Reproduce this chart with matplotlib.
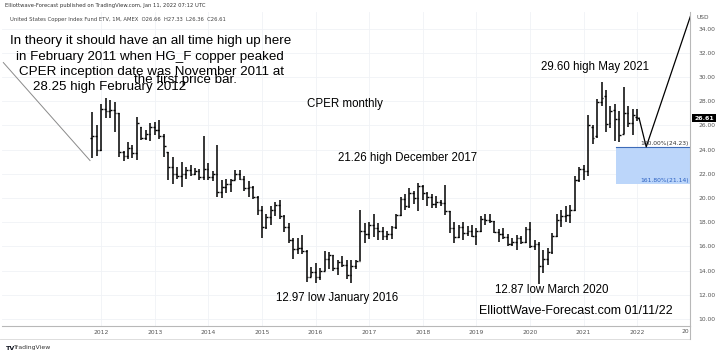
import numpy as np
import matplotlib.pyplot as plt
from matplotlib.patches import Rectangle

# monthly OHLC for CPER, Nov 2011 .. Jan 2022 (index 0 = Nov 2011)
opens = [25.0, 25.1, 24.0, 27.4, 27.2, 27.3, 27.0, 23.8, 23.5, 24.1, 23.7, 25.9,
         25.0, 25.3, 25.9, 25.6, 25.1, 23.8, 22.6, 22.0, 21.8, 22.0, 22.3, 22.0,
         22.2, 21.7, 22.4, 21.7, 22.0, 20.5, 20.9, 21.2, 21.5, 22.0, 21.6, 20.8,
         20.9, 20.1, 19.0, 17.6, 18.4, 19.0, 19.4, 18.5, 17.6, 16.5, 15.8, 15.9,
         15.6, 13.5, 13.9, 13.5, 14.0, 15.0, 15.3, 14.2, 14.7, 14.5, 13.6, 14.4,
         14.8, 17.3, 17.0, 17.8, 17.5, 17.3, 16.9, 17.0, 17.6, 18.6, 19.9, 19.3,
         20.4, 20.0, 21.0, 20.4, 20.1, 19.5, 19.7, 19.6, 18.9, 17.5, 16.8, 17.6,
         17.1, 17.3, 16.9, 17.3, 18.3, 18.2, 18.1, 17.2, 17.0, 16.8, 16.2, 16.4,
         16.7, 16.4, 17.4, 16.0, 16.2, 14.4, 15.0, 15.5, 16.9, 18.2, 18.5, 18.6,
         19.0, 21.5, 22.4, 22.2, 25.9, 25.1, 27.9, 28.4, 26.2, 27.3, 26.5, 25.3,
         27.0, 26.2, 26.66]
highs = [27.1, 26.0, 27.8, 28.25, 28.1, 27.97, 27.0, 23.9, 24.6, 24.4, 26.7, 25.9,
         25.6, 26.2, 26.3, 26.45, 25.3, 23.8, 23.4, 22.6, 23.0, 22.6, 22.7, 22.5,
         22.4, 25.1, 22.9, 22.2, 24.4, 21.5, 21.6, 21.6, 22.3, 22.3, 21.8, 21.4,
         21.0, 20.2, 19.3, 18.7, 19.3, 19.7, 19.8, 18.6, 17.9, 16.7, 16.7, 16.95,
         15.7, 14.3, 14.6, 14.2, 15.6, 15.5, 15.3, 14.9, 15.2, 14.9, 14.9, 14.9,
         19.0, 17.9, 18.0, 18.7, 17.9, 17.6, 17.3, 17.7, 18.7, 20.1, 20.3, 20.8,
         20.6, 21.26, 21.1, 20.5, 20.3, 20.2, 19.8, 21.1, 18.9, 18.05, 17.8, 18.0,
         17.7, 17.8, 17.5, 18.5, 18.7, 18.7, 18.1, 17.4, 17.5, 17.0, 16.7, 16.95,
         16.9, 17.6, 18.05, 16.5, 16.4, 15.7, 15.85, 17.1, 18.7, 19.0, 19.3, 19.4,
         21.8, 22.6, 22.7, 26.9, 26.0, 28.2, 29.6, 28.9, 27.6, 27.8, 27.2, 29.2,
         27.6, 27.4, 27.33]
lows = [23.3, 23.5, 23.9, 26.6, 26.6, 25.5, 23.4, 23.1, 23.2, 23.3, 23.15, 24.8,
        24.8, 24.7, 25.2, 24.9, 23.4, 21.5, 21.2, 21.6, 20.95, 21.6, 21.8, 21.9,
        21.5, 21.5, 21.5, 21.4, 20.1, 20.0, 20.4, 20.5, 21.5, 21.5, 20.6, 20.1,
        19.9, 18.6, 16.7, 17.4, 17.8, 18.5, 18.3, 17.2, 16.3, 15.0, 15.4, 15.4,
        13.05, 13.5, 12.97, 13.2, 14.0, 14.1, 14.0, 13.6, 14.3, 13.3, 13.0, 14.1,
        14.8, 16.3, 16.6, 16.8, 16.5, 16.5, 16.5, 16.6, 17.4, 18.5, 19.0, 19.2,
        19.5, 18.9, 19.8, 19.3, 19.2, 19.2, 19.3, 18.6, 17.1, 16.3, 16.7, 16.5,
        16.9, 16.8, 16.1, 17.2, 17.8, 17.9, 17.1, 16.4, 16.6, 16.0, 16.0, 15.7,
        16.2, 16.3, 15.9, 15.7, 12.87, 13.8, 14.5, 15.4, 16.8, 17.6, 18.0, 17.9,
        18.9, 21.3, 21.5, 21.8, 24.5, 25.0, 27.6, 25.5, 25.8, 24.7, 24.6, 25.3,
        25.9, 25.2, 26.36]
closes = [25.1, 24.0, 27.4, 27.2, 27.3, 27.0, 23.8, 23.5, 24.1, 23.7, 26.2, 25.0,
          25.3, 25.9, 25.6, 25.1, 24.3, 22.6, 22.0, 21.8, 22.0, 22.3, 22.0, 22.2,
          21.7, 22.4, 21.7, 22.0, 20.5, 20.9, 21.2, 21.5, 22.0, 21.6, 20.8, 20.9,
          20.1, 19.0, 17.6, 18.4, 19.0, 19.4, 18.5, 17.6, 16.5, 15.8, 15.9, 15.6,
          13.5, 13.9, 13.5, 14.0, 15.0, 15.3, 14.2, 14.7, 14.5, 13.6, 14.4, 14.8,
          17.3, 17.0, 17.8, 17.5, 17.3, 16.9, 17.0, 17.6, 18.6, 19.9, 19.3, 20.4,
          20.0, 21.0, 20.4, 20.1, 19.5, 19.7, 19.6, 18.9, 17.5, 16.8, 17.6, 17.1,
          17.3, 16.9, 17.3, 18.3, 18.2, 18.1, 17.2, 17.0, 16.8, 16.2, 16.4, 16.7,
          16.4, 17.4, 16.0, 16.2, 14.4, 15.0, 15.5, 16.9, 18.2, 18.5, 18.6, 19.0,
          21.5, 22.4, 22.2, 26.0, 25.0, 27.9, 28.3, 26.1, 27.2, 26.5, 25.2, 27.0,
          26.2, 26.9, 26.61]

years = ['2012', '2013', '2014', '2015', '2016', '2017', '2018', '2019', '2020', '2021', '2022']
year_pos = [2, 14, 26, 38, 50, 62, 74, 86, 98, 110, 122]
price_ticks = [10, 12, 14, 16, 18, 20, 22, 24, 26, 28, 30, 32, 34]

fib_100 = 24.23
fib_161 = 21.14
last_close = 26.61
# projected path drawn after the last bar
proj_x = [122.4, 124.0, 134.6]
proj_y = [26.61, 24.23, 35.8]
# thin pointer line on the left
ptr_x = [-19.9, -0.5]
ptr_y = [31.2, 23.1]

W, H = 720, 356
fig = plt.figure(figsize=(W / 100, H / 100), dpi=100)
fig.patch.set_facecolor('white')
ax = fig.add_axes([2 / W, (H - 326) / H, 688 / W, 314 / H])

x = np.arange(len(closes))
ax.vlines(x, lows, highs, color='black', lw=1.1)
ax.hlines(opens, x - 0.4, x, color='black', lw=1.0)
ax.hlines(closes, x, x + 0.4, color='black', lw=1.0)

ax.set_xlim(-20.2, 133.8)
ax.set_ylim(9.42, 35.38)

ax.yaxis.tick_right()
ax.set_yticks(price_ticks)
ax.set_yticklabels(['%.2f' % v for v in price_ticks])
ax.set_xticks(year_pos)
ax.set_xticklabels(years)
ax.tick_params(axis='both', length=0, labelsize=4.3, colors='#555555')
ax.tick_params(axis='y', pad=6)
ax.tick_params(axis='x', pad=3)
ax.grid(True, color='#f0f2f6', lw=0.6)
ax.set_axisbelow(True)
for s in ['top', 'left']:
    ax.spines[s].set_visible(False)
for s in ['right', 'bottom']:
    ax.spines[s].set_color('#b8b8b8')
    ax.spines[s].set_linewidth(0.8)

# fibonacci extension box
ax.add_patch(Rectangle((117.2, fib_161), 30, fib_100 - fib_161,
                       facecolor='#bcd6fa', edgecolor='none', zorder=1))
ax.plot([117.2, 140], [fib_100, fib_100], color='#3d6bb8', lw=0.8, zorder=2)
ax.text(133.6, fib_100 + 0.08, '100.00%(24.23)', fontsize=4.3, color='#333333',
        ha='right', va='bottom')
ax.text(133.6, fib_161 + 0.08, '161.80%(21.14)', fontsize=4.3, color='#2a5fc0',
        ha='right', va='bottom')

ax.plot(proj_x, proj_y, color='black', lw=0.9)
ax.plot(ptr_x, ptr_y, color='#8a8a8a', lw=0.7)

ff = 'Liberation Sans'
big = 9.6
fs = 8.3
ax.text(13.0, 32.98, 'In theory it should have an all time high up here', fontsize=big, family=ff, ha='center', va='center')
ax.text(12.8, 31.70, 'in February 2011 when HG_F copper peaked', fontsize=big, family=ff, ha='center', va='center')
ax.text(13.3, 30.44, 'CPER inception date was November 2011 at', fontsize=big, family=ff, ha='center', va='center')
ax.text(20.8, 29.72, 'the first price bar.', fontsize=big, family=ff, ha='center', va='center')
ax.text(3.8, 29.20, '28.25 high February 2012', fontsize=big, family=ff, ha='center', va='center')
ax.text(56.5, 27.78, 'CPER monthly', fontsize=fs, family=ff, ha='center', va='center')
ax.text(70.6, 23.3, '21.26 high December 2017', fontsize=fs, family=ff, ha='center', va='center')
ax.text(54.8, 11.74, '12.97 low January 2016', fontsize=fs, family=ff, ha='center', va='center')
ax.text(102.8, 12.4, '12.87 low March 2020', fontsize=fs, family=ff, ha='center', va='center')
ax.text(108.3, 10.67, 'ElliottWave-Forecast.com 01/11/22', fontsize=9.0, family=ff, ha='center', va='center')
ax.text(112.5, 30.85, '29.60 high May 2021', fontsize=fs, family=ff, ha='center', va='center')

# last price marker on the axis
ax.text(1.006, last_close, '26.61', transform=ax.get_yaxis_transform(),
        fontsize=4.4, color='white', fontweight='bold', ha='left', va='center',
        bbox=dict(boxstyle='square,pad=0.3', facecolor='black', edgecolor='none'))
ax.text(1.01, 34.9, 'USD', transform=ax.get_yaxis_transform(), fontsize=4.2,
        color='#555555', ha='left', va='center')
ax.text(133.6, 9.42 - 0.25, '20', fontsize=4.3, color='#555555', ha='right', va='top')

# page chrome
fig.text(5 / W, 1 - 6 / H, 'Elliottwave-Forecast published on TradingView.com, Jan 11, 2022 07:12 UTC',
         fontsize=3.75, color='#333333', ha='left', va='center')
fig.text(10 / W, 1 - 20 / H, 'United States Copper Index Fund ETV, 1M, AMEX  O26.66  H27.33  L26.36  C26.61',
         fontsize=3.8, color='#444444', ha='left', va='center')
fig.add_artist(plt.Line2D([0, 690 / W], [(H - 339) / H] * 2, color='#d8d8d8', lw=0.6))
fig.add_artist(plt.Line2D([690 / W] * 2, [(H - 339) / H, (H - 326) / H], color='#b8b8b8', lw=0.8))
fig.text(6 / W, 1 - 348 / H, 'TV', fontsize=4.6, fontweight='bold', color='#131722', ha='left', va='center')
fig.text(14 / W, 1 - 348 / H, 'TradingView', fontsize=4.4, color='#333333', ha='left', va='center')

fig.savefig('out.png', dpi=100)
